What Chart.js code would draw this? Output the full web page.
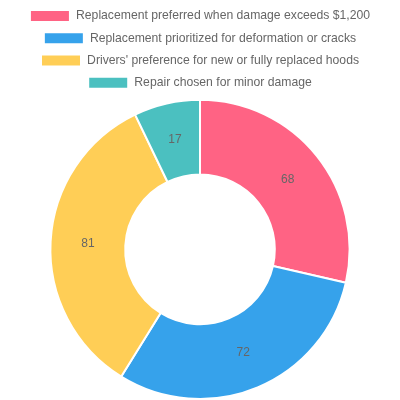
<!DOCTYPE html>
<html>
<head>
<meta charset="utf-8">
<script src="https://cdn.jsdelivr.net/npm/chart.js@4"></script>
<style>
  html, body { margin: 0; padding: 0; background: #fff; }
  #wrap { width: 400px; height: 400px; }
</style>
</head>
<body>
<div id="wrap"><canvas id="hoodChart"></canvas></div>
<script>
const labels = [
    'Replacement preferred when damage exceeds $1,200',
    'Replacement prioritized for deformation or cracks',
    "Drivers' preference for new or fully replaced hoods",
    'Repair chosen for minor damage'
];
const values = [68, 72, 81, 17];
const colors = ['#FF6384', '#36A2EB', '#FFCE56', '#4BC0C0'];

Chart.defaults.font.family = '"Liberation Sans", Arial, sans-serif';
Chart.defaults.color = '#666';

// draw the value in the middle of each slice
const sliceLabels = {
    id: 'sliceLabels',
    afterDatasetsDraw(chart) {
        const ctx = chart.ctx;
        const meta = chart.getDatasetMeta(0);
        ctx.save();
        ctx.font = '12px "Liberation Sans", Arial, sans-serif';
        ctx.fillStyle = '#666';
        ctx.textAlign = 'center';
        ctx.textBaseline = 'middle';
        meta.data.forEach(function (arc, i) {
            const pos = arc.tooltipPosition();
            ctx.fillText(values[i], pos.x, pos.y);
        });
        ctx.restore();
    }
};

const ctx = document.getElementById('hoodChart').getContext('2d');
new Chart(ctx, {
    type: 'doughnut',
    data: {
        labels: labels,
        datasets: [{
            data: values,
            backgroundColor: colors,
            borderColor: '#fff',
            borderWidth: 2
        }]
    },
    options: {
        responsive: true,
        maintainAspectRatio: false,
        animation: false,
        plugins: {
            legend: {
                position: 'top',
                labels: { boxWidth: 40, boxHeight: 12, font: { size: 12.2 } }
            },
            tooltip: { enabled: false }
        }
    },
    plugins: [sliceLabels]
});
</script>
</body>
</html>
